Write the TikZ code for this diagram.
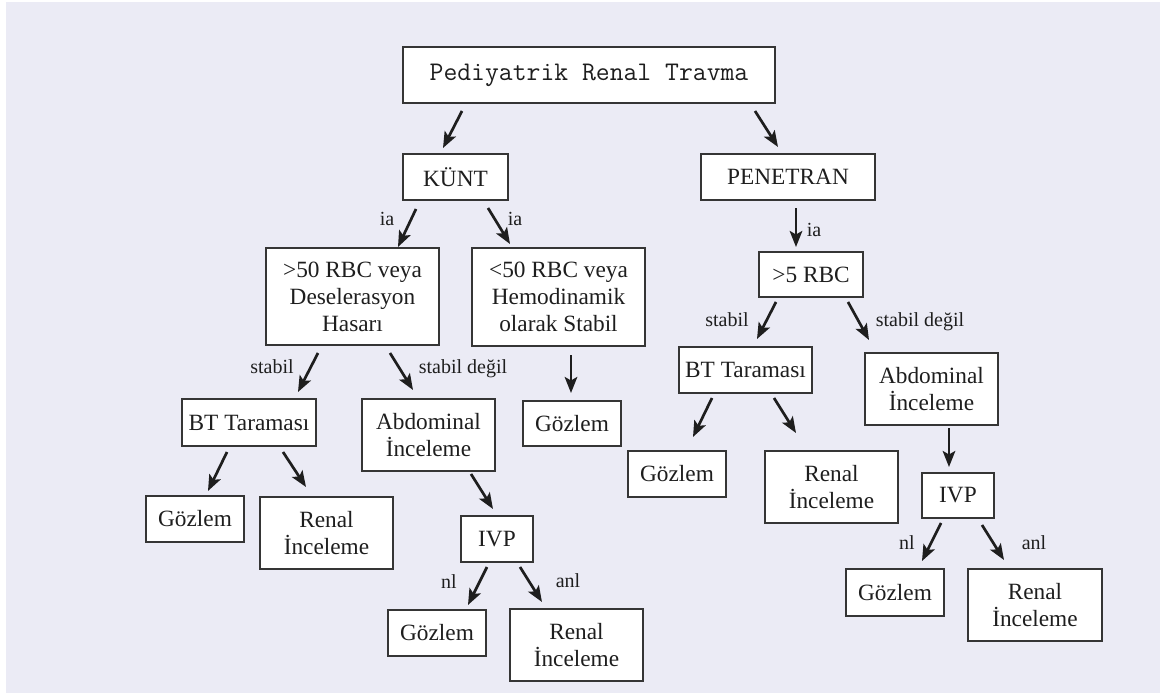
\documentclass[tikz,border=0pt]{standalone}
\usepackage{fontspec}
\setmainfont{Liberation Serif}
\usetikzlibrary{arrows.meta}
\definecolor{bglav}{RGB}{235,235,245}
\definecolor{ink}{RGB}{30,30,30}
\tikzset{
  box/.style={draw=ink!90, line width=1.4pt, fill=white, text=ink, align=center, inner sep=0pt,
     font=\fontsize{23.3}{27}\selectfont},
  arr/.style={draw=ink, line width=2.7pt, -{Stealth[length=16pt,width=12.5pt,inset=3.5pt]}},
  lab/.style={text=ink, inner sep=0pt, anchor=base, font=\fontsize{20}{24}\selectfont},
}
\begin{document}
\begin{tikzpicture}[x=1pt,y=-1pt]
\useasboundingbox (0,0) rectangle (1160,693);
\fill[bglav] (6,2) rectangle (1160,693);
% boxes
\node[box, minimum width=372pt, minimum height=56pt, font=\ttfamily\addfontfeature{FakeBold=1}\fontsize{26.9}{30}\selectfont] (top) at (589,75) {Pediyatrik Renal Travma};
\node[box, minimum width=105pt, minimum height=46pt] (kunt) at (455.5,177) {KÜNT};
\node[box, minimum width=174pt, minimum height=46pt] (pen) at (788,177) {PENETRAN};
\node[box, minimum width=173pt, minimum height=97pt] (gt50) at (352.5,296.5) {>50 RBC veya\\Deselerasyon\\Hasarı};
\node[box, minimum width=173pt, minimum height=98pt] (lt50) at (558.5,297) {<50 RBC veya\\Hemodinamik\\olarak Stabil};
\node[box, minimum width=104pt, minimum height=45pt] (rbc5) at (811,274.5) {>5 RBC};
\node[box, minimum width=134pt, minimum height=47pt] (bt1) at (249,422.5) {BT Taraması};
\node[box, minimum width=133pt, minimum height=72pt] (abd1) at (428.5,435) {Abdominal\\İnceleme};
\node[box, minimum width=98pt, minimum height=45pt] (goz0) at (572,423.5) {Gözlem};
\node[box, minimum width=133pt, minimum height=46pt] (bt2) at (745.5,370) {BT Taraması};
\node[box, minimum width=133pt, minimum height=72pt] (abd2) at (931.5,389) {Abdominal\\İnceleme};
\node[box, minimum width=98pt, minimum height=46pt] (goz1) at (195,519) {Gözlem};
\node[box, minimum width=133pt, minimum height=72pt] (ren1) at (326.5,533) {Renal\\İnceleme};
\node[box, minimum width=72pt, minimum height=46pt] (ivp1) at (497,539) {IVP};
\node[box, minimum width=98pt, minimum height=46pt] (goz2) at (437,633) {Gözlem};
\node[box, minimum width=133pt, minimum height=72pt] (ren2) at (576.5,645) {Renal\\İnceleme};
\node[box, minimum width=98pt, minimum height=46pt] (goz3) at (677,474) {Gözlem};
\node[box, minimum width=133pt, minimum height=72pt] (ren3) at (831.5,487) {Renal\\İnceleme};
\node[box, minimum width=72pt, minimum height=45pt] (ivp2) at (958,495.5) {IVP};
\node[box, minimum width=98pt, minimum height=47pt] (goz4) at (895,592.5) {Gözlem};
\node[box, minimum width=134pt, minimum height=72pt] (ren4) at (1035,605) {Renal\\İnceleme};
% arrow end points
\coordinate (a1s) at (462,111); \coordinate (a1e) at (443,148);
\coordinate (a2s) at (755,111); \coordinate (a2e) at (778,147);
\coordinate (a3s) at (416,209); \coordinate (a3e) at (398,247);
\coordinate (a4s) at (488,208); \coordinate (a4e) at (510,244);
\coordinate (a5s) at (796,208); \coordinate (a5e) at (796,247);
\coordinate (a6s) at (776,302); \coordinate (a6e) at (757,339);
\coordinate (a7s) at (848,302); \coordinate (a7e) at (869,340);
\coordinate (a8s) at (318,353); \coordinate (a8e) at (298,392);
\coordinate (a9s) at (390,353); \coordinate (a9e) at (413,390);
\coordinate (a10s) at (571,355); \coordinate (a10e) at (571,393);
\coordinate (a11s) at (227,452); \coordinate (a11e) at (208,491);
\coordinate (a12s) at (283,452); \coordinate (a12e) at (306,487);
\coordinate (a13s) at (471,474); \coordinate (a13e) at (493,509);
\coordinate (a14s) at (487,567); \coordinate (a14e) at (468,605);
\coordinate (a15s) at (520,567); \coordinate (a15e) at (542,602);
\coordinate (a16s) at (712,398); \coordinate (a16e) at (693,437);
\coordinate (a17s) at (774,398); \coordinate (a17e) at (796,433);
\coordinate (a18s) at (949,428); \coordinate (a18e) at (949,467);
\coordinate (a19s) at (941,523); \coordinate (a19e) at (922,561);
\coordinate (a20s) at (982,525); \coordinate (a20e) at (1004,560);
\foreach \i in {1,...,20} { \draw[arr] (a\i s) -- (a\i e); }
% labels
\node[lab] (l3) at (387,225) {ia};
\node[lab] (l4) at (515,225) {ia};
\node[lab] (l5) at (814,236) {ia};
\node[lab] (l6) at (727,326) {stabil};
\node[lab] (l7) at (920,326) {stabil değil};
\node[lab] (l8) at (272,373) {stabil};
\node[lab] (l9) at (463,373) {stabil değil};
\node[lab] (l14) at (449,588) {nl};
\node[lab] (l15) at (568,587) {anl};
\node[lab] (l19) at (907,549) {nl};
\node[lab] (l20) at (1034,549) {anl};
\end{tikzpicture}
\end{document}
